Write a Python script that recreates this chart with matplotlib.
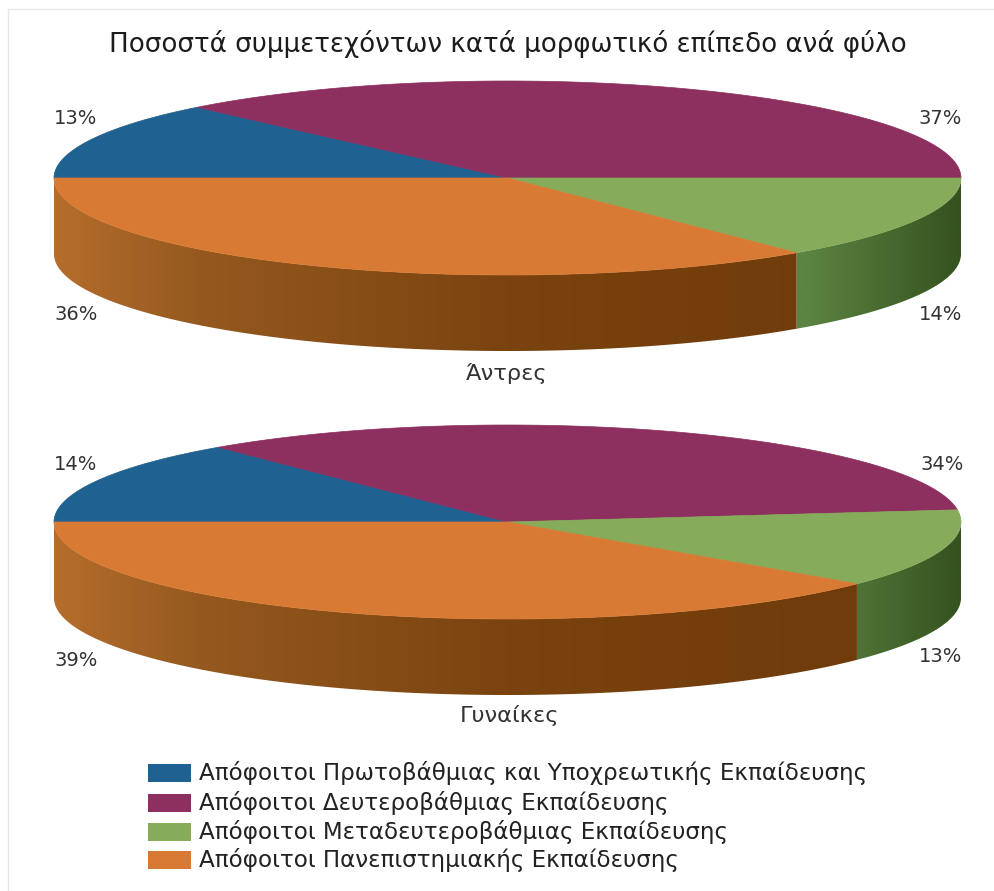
import numpy as np
import matplotlib
matplotlib.use('Agg')
import matplotlib.pyplot as plt
from matplotlib.colors import LinearSegmentedColormap
from matplotlib.patches import Polygon, Rectangle

plt.rcParams['font.family'] = ['DejaVu Sans']

title = 'Ποσοστά συμμετεχόντων κατά μορφωτικό επίπεδο ανά φύλο'
categories = ['Απόφοιτοι Πρωτοβάθμιας και Υποχρεωτικής Εκπαίδευσης',
              'Απόφοιτοι Δευτεροβάθμιας Εκπαίδευσης',
              'Απόφοιτοι Μεταδευτεροβάθμιας Εκπαίδευσης',
              'Απόφοιτοι Πανεπιστημιακής Εκπαίδευσης']
men = [13, 37, 14, 36]
women = [14, 34, 13, 39]
colors = ['#1F6190', '#8D2F5F', '#86AC5B', '#D97A34']

# side wall shading per slice, stops are fractions of the pie width
side_stops = {2: [(0.0, '#5C8442'), (0.83, '#5C8442'), (1.0, '#35521F')],
              3: [(0.0, '#B56D2C'), (0.16, '#95591F'), (0.5, '#7A430F'), (1.0, '#6C390A')]}

RX, RY, DEPTH = 453.5, 97, 76
CX = 507.5

fig = plt.figure(figsize=(9.95, 8.91), dpi=100)
ax = fig.add_axes([0, 0, 1, 1])


def ellipse_points(cy, a0, a1):
    t = np.radians(np.linspace(a0, a1, 200))
    return CX + RX * np.cos(t), cy - RY * np.sin(t)


def draw_side(cy, a0, a1, stops):
    # only the front half of the rim is visible
    lo, hi = max(a0, -180), min(a1, 0)
    if lo >= hi:
        return
    x, y = ellipse_points(cy, lo, hi)
    pts = np.r_[np.c_[x, y], np.c_[x[::-1], y[::-1] + DEPTH]]
    patch = Polygon(pts, closed=True, fc='none', ec='none')
    ax.add_patch(patch)
    cmap = LinearSegmentedColormap.from_list('side', stops)
    im = ax.imshow(np.linspace(0, 1, 512)[None, :], cmap=cmap, aspect='auto',
                   extent=[CX - RX, CX + RX, cy + RY + DEPTH, cy - RY], zorder=2)
    im.set_clip_path(patch)


def draw_pie(cy, values):
    # slices run clockwise from the left edge, orange wraps back to -180
    start = 180.0
    for i, v in enumerate(values):
        end = start - v * 3.6
        if i in side_stops:
            draw_side(cy, end, start, side_stops[i])
        x, y = ellipse_points(cy, start, end)
        pts = np.r_[[[CX, cy]], np.c_[x, y]]
        ax.add_patch(Polygon(pts, closed=True, fc=colors[i], ec=colors[i], lw=0.5, zorder=3))
        start = end


draw_pie(178, men)
draw_pie(522, women)

ax.text(508, 44, title, ha='center', va='center', fontsize=18.8, color='#1c1c1c')

txt = dict(fontsize=14, color='#333333', va='center')
ax.text(54, 118, f'{men[0]}%', ha='left', **txt)
ax.text(962, 118, f'{men[1]}%', ha='right', **txt)
ax.text(962, 315, f'{men[2]}%', ha='right', **txt)
ax.text(54, 315, f'{men[3]}%', ha='left', **txt)
ax.text(54, 464, f'{women[0]}%', ha='left', **txt)
ax.text(964, 464, f'{women[1]}%', ha='right', **txt)
ax.text(962, 657, f'{women[2]}%', ha='right', **txt)
ax.text(54, 660, f'{women[3]}%', ha='left', **txt)

ax.text(507, 373, 'Άντρες', ha='center', va='center', fontsize=16.2, color='#333333')
ax.text(509, 716, 'Γυναίκες', ha='center', va='center', fontsize=16.2, color='#333333')

# legend
legend_y = [773, 803, 832, 860]
for label, c, y in zip(categories, colors, legend_y):
    ax.add_patch(Rectangle((148, y - 9), 43, 18, fc=c, ec='none'))
    ax.text(199, y, label, ha='left', va='center', fontsize=16.6, color='#222222')

# thin frame along the top and left
ax.plot([8, 8], [891, 9], color='#e6e6e6', lw=1)
ax.plot([8, 995], [9, 9], color='#e6e6e6', lw=1)

ax.set_xlim(0, 995)
ax.set_ylim(891, 0)
ax.axis('off')
fig.savefig('out.png', dpi=100)
